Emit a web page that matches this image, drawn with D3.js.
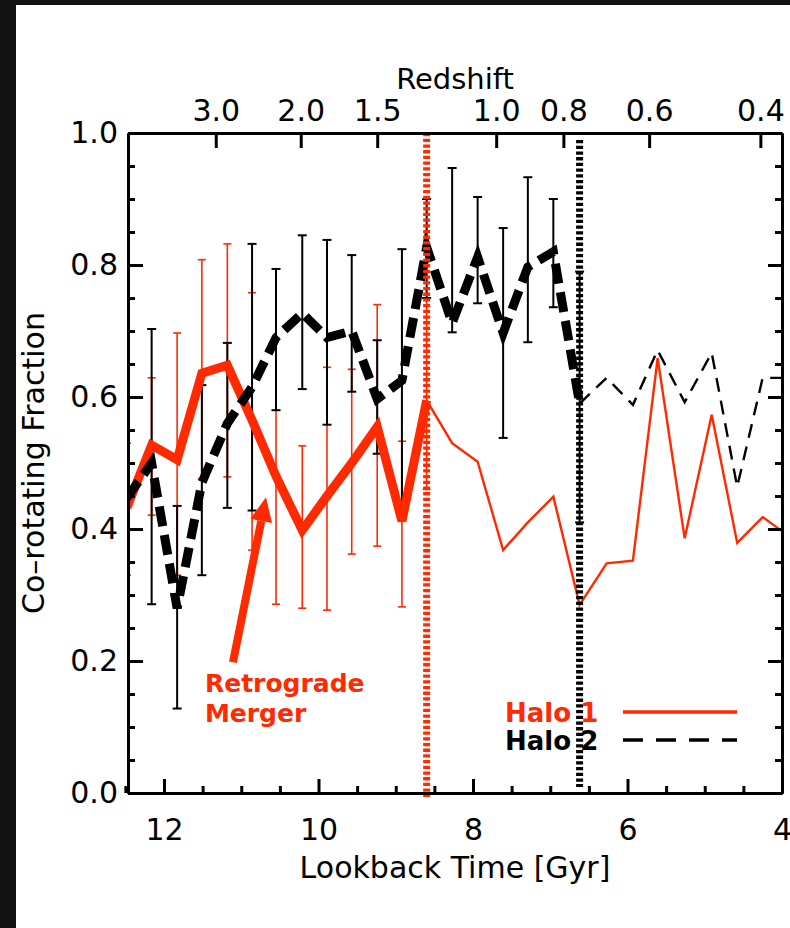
<!DOCTYPE html>
<html>
<head>
<meta charset="utf-8">
<script src="https://cdn.jsdelivr.net/npm/d3@7"></script>
<style>
  html, body { margin: 0; padding: 0; background: #fff; }
  svg { display: block; }
  text { font-family: "DejaVu Sans", sans-serif; }
</style>
</head>
<body>
<svg id="chart" width="790" height="928"></svg>
<script>
// Snapshot lookback times [Gyr]
const times = [12.48, 12.16, 11.83, 11.51, 11.18, 10.86, 10.55, 10.21, 9.89, 9.57, 9.24, 8.92, 8.60,
               8.27, 7.94, 7.61, 7.29, 6.96, 6.62, 6.27, 5.93, 5.61, 5.26, 4.91, 4.58, 4.25, 3.92];

// Co-rotating fraction per snapshot
const halo1 = [0.433, 0.527, 0.505, 0.636, 0.648, 0.565, 0.480, 0.398, 0.450, 0.500, 0.555, 0.412, 0.595,
               0.530, 0.502, 0.368, 0.410, 0.449, 0.285, 0.348, 0.352, 0.659, 0.386, 0.573, 0.379, 0.418, 0.390];
const halo2 = [0.447, 0.500, 0.280, 0.470, 0.560, 0.615, 0.690, 0.727, 0.690, 0.700, 0.597, 0.625, 0.827,
               0.712, 0.812, 0.697, 0.797, 0.820, 0.590, 0.629, 0.588, 0.671, 0.592, 0.667, 0.464, 0.629, 0.629];

// Error ranges (low, high) for the early snapshots
const halo1Low  = [0.330, 0.421, 0.330, 0.476, 0.479, 0.368, 0.286, 0.280, 0.277, 0.362, 0.374, 0.282, 0.460];
const halo1High = [0.530, 0.629, 0.697, 0.808, 0.832, 0.758, 0.689, 0.526, 0.645, 0.642, 0.740, 0.533, 0.750];
const halo2Low  = [null, 0.286, 0.128, 0.330, 0.432, 0.428, 0.580, 0.612, 0.558, 0.608, 0.514, 0.421, 0.750,
                   0.698, 0.742, 0.538, 0.683, 0.736, 0.410];
const halo2High = [null, 0.703, 0.435, 0.618, 0.682, 0.832, 0.794, 0.845, 0.838, 0.815, 0.686, 0.824, 0.900,
                   0.947, 0.903, 0.856, 0.933, 0.900, 0.790];

// Events marked by vertical lines
const mergerTime1 = 8.60;
const mergerTime2 = 6.62;

// Axis ticks
const xMajor = [12, 10, 8, 6, 4];
const xMinor = [12.5, 11.5, 11, 10.5, 9.5, 9, 8.5, 7.5, 7, 6.5, 5.5, 5, 4.5];
const yMajor = [0, 0.2, 0.4, 0.6, 0.8, 1.0];
const yMinor = [0.05, 0.1, 0.15, 0.25, 0.3, 0.35, 0.45, 0.5, 0.55, 0.65, 0.7, 0.75, 0.85, 0.9, 0.95];
const zLabels = ["3.0", "2.0", "1.5", "1.0", "0.8", "0.6", "0.4"];
const zTimes  = [11.33, 10.23, 9.24, 7.70, 6.83, 5.72, 4.28];

const RED = "#ff2a00";
const BLACK = "#000";

const svg = d3.select("#chart");
const W = 790, H = 928;
const m = { left: 128, right: 782, top: 133, bottom: 793 };

// Dark frame strips
svg.append("rect").attr("x", 0).attr("y", 0).attr("width", W).attr("height", 5).attr("fill", "#121212");
svg.append("rect").attr("x", 0).attr("y", 0).attr("width", 16).attr("height", H).attr("fill", "#121212");

const x = d3.scaleLinear().domain([12.466, 4.0]).range([m.left, m.right]);
const y = d3.scaleLinear().domain([0, 1]).range([m.bottom, m.top]);

svg.append("defs").append("clipPath").attr("id", "plotclip")
  .append("rect").attr("x", m.left).attr("y", m.top)
  .attr("width", m.right - m.left).attr("height", m.bottom - m.top);

const plot = svg.append("g").attr("clip-path", "url(#plotclip)");

const pts1 = times.map((t, i) => ({ t, v: halo1[i] }));
const pts2 = times.map((t, i) => ({ t, v: halo2[i] }));
const line = d3.line().x(d => x(d.t)).y(d => y(d.v));

// Error bars
function errorBars(lows, highs, color, width, cap) {
  const g = plot.append("g").attr("stroke", color).attr("stroke-width", width).attr("fill", "none");
  lows.forEach((lo, i) => {
    if (lo == null) return;
    const hi = highs[i], cx = x(times[i]);
    g.append("line").attr("x1", cx).attr("x2", cx).attr("y1", y(lo)).attr("y2", y(hi));
    g.append("line").attr("x1", cx - cap).attr("x2", cx + cap).attr("y1", y(lo)).attr("y2", y(lo));
    g.append("line").attr("x1", cx - cap).attr("x2", cx + cap).attr("y1", y(hi)).attr("y2", y(hi));
  });
}
errorBars(halo1Low, halo1High, RED, 1.6, 4);
errorBars(halo2Low, halo2High, BLACK, 2, 4.5);

// Halo 1: thick before the first event, thin after
const split1 = times.indexOf(mergerTime1);
const split2 = times.indexOf(mergerTime2);
plot.append("path").datum(pts1.slice(0, split1 + 1)).attr("d", line)
  .attr("fill", "none").attr("stroke", RED).attr("stroke-width", 9).attr("stroke-linejoin", "miter");
plot.append("path").datum(pts1.slice(split1)).attr("d", line)
  .attr("fill", "none").attr("stroke", RED).attr("stroke-width", 2.4);

// Halo 2: thick dashed before the second event, thin dashed after
plot.append("path").datum(pts2.slice(0, split2 + 1)).attr("d", line)
  .attr("fill", "none").attr("stroke", BLACK).attr("stroke-width", 9)
  .attr("stroke-dasharray", "20,9");
plot.append("path").datum(pts2.slice(split2)).attr("d", line)
  .attr("fill", "none").attr("stroke", BLACK).attr("stroke-width", 2.4)
  .attr("stroke-dasharray", "14,9");

// Vertical event markers
svg.append("line").attr("x1", x(mergerTime1)).attr("x2", x(mergerTime1))
  .attr("y1", m.top).attr("y2", m.bottom + 4)
  .attr("stroke", RED).attr("stroke-width", 7).attr("stroke-dasharray", "3.3,2.4");
svg.append("line").attr("x1", x(mergerTime2)).attr("x2", x(mergerTime2))
  .attr("y1", m.top + 7).attr("y2", m.bottom - 6)
  .attr("stroke", BLACK).attr("stroke-width", 7).attr("stroke-dasharray", "3.3,2.4");

// Annotation arrow
const arrowTail = { t: 11.107, v: 0.198 };
const arrowTip = { t: 10.68, v: 0.448 };
{
  const x0 = x(arrowTail.t), y0 = y(arrowTail.v), x1 = x(arrowTip.t), y1 = y(arrowTip.v);
  const ang = Math.atan2(y1 - y0, x1 - x0);
  const headLen = 24, headHalf = 11;
  const bx = x1 - headLen * Math.cos(ang), by = y1 - headLen * Math.sin(ang);
  svg.append("line").attr("x1", x0).attr("y1", y0).attr("x2", bx).attr("y2", by)
    .attr("stroke", RED).attr("stroke-width", 8);
  const px = -Math.sin(ang) * headHalf, py = Math.cos(ang) * headHalf;
  svg.append("path")
    .attr("d", `M${x1},${y1}L${bx + px},${by + py}L${bx - px},${by - py}Z`)
    .attr("fill", RED);
}
const noteLines = ["Retrograde", "Merger"];
const notePos = { t: 11.47, v: 0.153 };
noteLines.forEach((s, i) => {
  svg.append("text").attr("x", x(notePos.t)).attr("y", y(notePos.v) + i * 30)
    .attr("fill", RED).attr("font-size", 25).attr("font-weight", "bold").text(s);
});

// Legend
const legend = [
  { label: "Halo 1", color: RED, dash: null },
  { label: "Halo 2", color: BLACK, dash: "20,13" }
];
const lg = svg.append("g");
legend.forEach((d, i) => {
  const by = 722 + i * 28;
  lg.append("text").attr("x", 505).attr("y", by).attr("fill", d.color)
    .attr("font-size", 26).attr("font-weight", "bold").text(d.label);
  lg.append("line").attr("x1", 623).attr("x2", 737).attr("y1", by - 10).attr("y2", by - 10)
    .attr("stroke", d.color).attr("stroke-width", 3.5).attr("stroke-dasharray", d.dash);
});

// Axes
function styleAxis(g) {
  g.selectAll(".domain").attr("stroke", "#000").attr("stroke-width", 3);
  g.selectAll(".tick line").attr("stroke", "#000").attr("stroke-width", 3);
  g.selectAll("text").attr("font-family", "DejaVu Sans, sans-serif").attr("font-size", 30).attr("fill", "#000");
}
// bottom
svg.append("g").attr("transform", `translate(0,${m.bottom})`)
  .call(d3.axisBottom(x).tickValues(xMinor).tickSize(-7).tickSizeOuter(0).tickFormat(""))
  .call(styleAxis);
const bAxis = svg.append("g").attr("transform", `translate(0,${m.bottom})`)
  .call(d3.axisBottom(x).tickValues(xMajor).tickSize(-14).tickSizeOuter(0).tickPadding(26).tickFormat(d3.format("d")))
  .call(styleAxis);
bAxis.selectAll(".tick text").attr("dy", "0.71em");
// top
svg.append("g").attr("transform", `translate(0,${m.top})`)
  .call(d3.axisTop(x).tickValues(zTimes).tickSize(-15).tickSizeOuter(0).tickPadding(12)
    .tickFormat((d, i) => zLabels[i]))
  .call(styleAxis);
// left
svg.append("g").attr("transform", `translate(${m.left},0)`)
  .call(d3.axisLeft(y).tickValues(yMinor).tickSize(-7).tickSizeOuter(0).tickFormat(""))
  .call(styleAxis);
svg.append("g").attr("transform", `translate(${m.left},0)`)
  .call(d3.axisLeft(y).tickValues(yMajor).tickSize(-15).tickSizeOuter(0).tickPadding(10).tickFormat(d3.format(".1f")))
  .call(styleAxis);
// right
svg.append("g").attr("transform", `translate(${m.right},0)`)
  .call(d3.axisRight(y).tickValues(yMinor).tickSize(-7).tickSizeOuter(0).tickFormat(""))
  .call(styleAxis);
svg.append("g").attr("transform", `translate(${m.right},0)`)
  .call(d3.axisRight(y).tickValues(yMajor).tickSize(-14).tickSizeOuter(0).tickFormat(""))
  .call(styleAxis);

// Axis titles
svg.append("text").attr("x", (m.left + m.right) / 2).attr("y", 878)
  .attr("text-anchor", "middle").attr("font-size", 30).text("Lookback Time [Gyr]");
svg.append("text").attr("x", (m.left + m.right) / 2).attr("y", 89)
  .attr("text-anchor", "middle").attr("font-size", 29).text("Redshift");
svg.append("text").attr("transform", `translate(44,${(m.top + m.bottom) / 2}) rotate(-90)`)
  .attr("text-anchor", "middle").attr("font-size", 30).text("Co\u2013rotating Fraction");
</script>
</body>
</html>
